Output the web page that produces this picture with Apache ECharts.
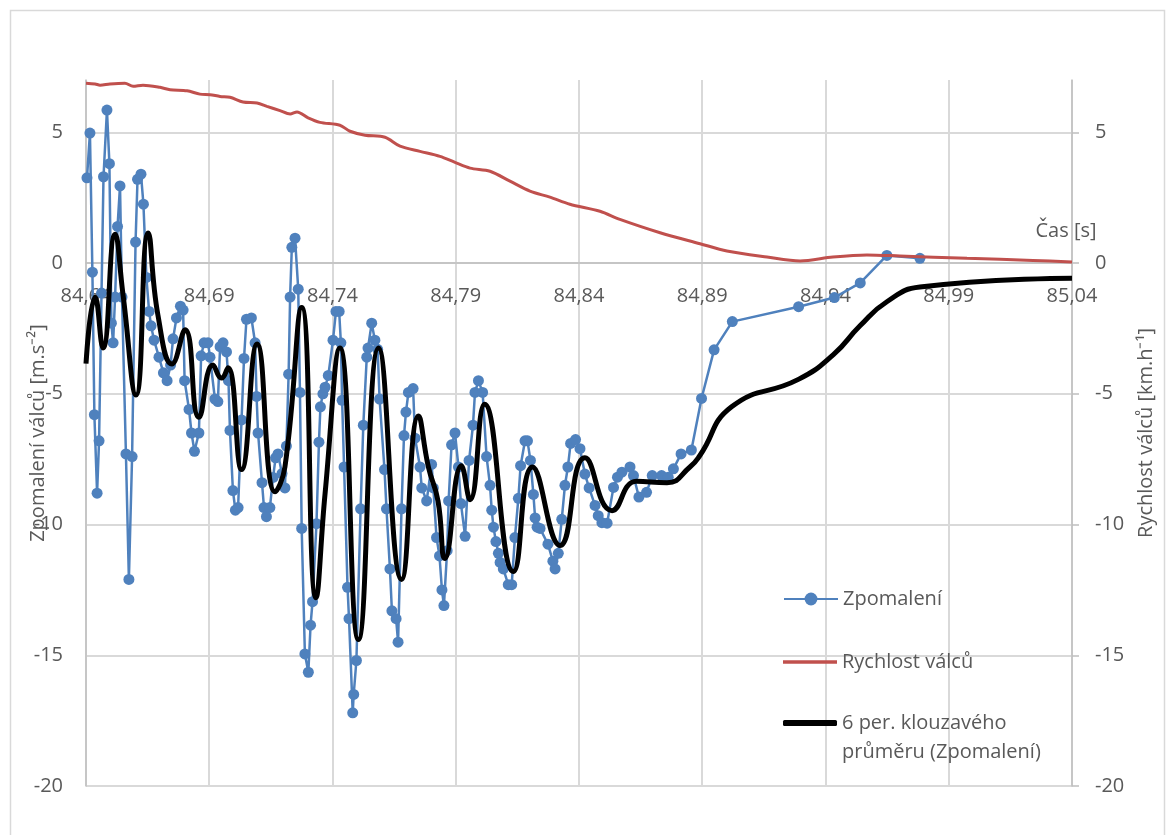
<!DOCTYPE html>
<html>
<head>
<meta charset="utf-8">
<script src="https://cdn.jsdelivr.net/npm/echarts@6/dist/echarts.min.js"></script>
<style>
  html, body { margin: 0; padding: 0; background: #ffffff; }
  #chart { width: 1170px; height: 835px; }
</style>
</head>
<body>
<div id="chart"></div>
<script>
// Deceleration of the rolls [m.s^-2] against time [s]
const timeDecel = [
  84.6404, 84.6416, 84.6426, 84.6434, 84.6445, 84.6453, 84.6463, 84.6471, 84.6485, 84.6495,
  84.6503, 84.6510, 84.6518, 84.6528, 84.6538, 84.6546, 84.6562, 84.6574, 84.6587, 84.6601,
  84.6609, 84.6623, 84.6633, 84.6645, 84.6656, 84.6664, 84.6676, 84.6696, 84.6714, 84.6729,
  84.6743, 84.6753, 84.6767, 84.6783, 84.6794, 84.6800, 84.6818, 84.6828, 84.6840, 84.6858,
  84.6867, 84.6879, 84.6895, 84.6903, 84.6923, 84.6935, 84.6944, 84.6956, 84.6970, 84.6978,
  84.6984, 84.6996, 84.7006, 84.7017, 84.7031, 84.7041, 84.7051, 84.7071, 84.7086, 84.7092,
  84.7098, 84.7114, 84.7122, 84.7132, 84.7146, 84.7159, 84.7169, 84.7179, 84.7195, 84.7207,
  84.7213, 84.7222, 84.7228, 84.7235, 84.7248, 84.7261, 84.7268, 84.7275, 84.7288, 84.7302,
  84.7311, 84.7319, 84.7335, 84.7345, 84.7351, 84.7361, 84.7370, 84.7383, 84.7402, 84.7414,
  84.7427, 84.7434, 84.7439, 84.7447, 84.7461, 84.7467, 84.7482, 84.7486, 84.7497, 84.7514,
  84.7525, 84.7539, 84.7544, 84.7559, 84.7572, 84.7583, 84.7591, 84.7611, 84.7619, 84.7633,
  84.7641, 84.7658, 84.7666, 84.7680, 84.7690, 84.7698, 84.7708, 84.7727, 84.7735, 84.7755,
  84.7762, 84.7782, 84.7802, 84.7809, 84.7822, 84.7834, 84.7844, 84.7852, 84.7865, 84.7871,
  84.7883, 84.7897, 84.7911, 84.7921, 84.7938, 84.7954, 84.7970, 84.7978, 84.7992, 84.8009,
  84.8025, 84.8039, 84.8046, 84.8053, 84.8063, 84.8073, 84.8080, 84.8093, 84.8113, 84.8127,
  84.8140, 84.8154, 84.8163, 84.8181, 84.8191, 84.8203, 84.8215, 84.8222, 84.8230, 84.8242,
  84.8274, 84.8294, 84.8303, 84.8316, 84.8330, 84.8343, 84.8355, 84.8366, 84.8386, 84.8404,
  84.8424, 84.8441, 84.8465, 84.8478, 84.8493, 84.8514, 84.8540, 84.8556, 84.8574, 84.8607,
  84.8621, 84.8643, 84.8674, 84.8697, 84.8735, 84.8762, 84.8783, 84.8814, 84.8856, 84.8897,
  84.8948, 84.9022, 84.9291, 84.9436, 84.9541, 84.9649, 84.9783
];
const decel = [
  3.26, 4.97, -0.35, -5.8, -8.8, -6.8, -1.15, 3.3, 5.85, 3.8,
  -2.3, -3.05, -1.3, 1.4, 2.95, -1.3, -7.3, -12.1, -7.4, 0.8,
  3.2, 3.4, 2.25, -0.55, -1.85, -2.4, -2.95, -3.6, -4.2, -4.5,
  -3.9, -2.9, -2.1, -1.65, -1.8, -4.5, -5.6, -6.5, -7.2, -6.5,
  -3.55, -3.05, -3.05, -3.6, -5.2, -5.3, -3.2, -3.05, -3.4, -4.5,
  -6.4, -8.7, -9.45, -9.35, -6.0, -3.65, -2.15, -2.1, -3.05, -5.1,
  -6.5, -8.4, -9.35, -9.7, -9.35, -8.2, -7.45, -7.3, -8.05, -8.6,
  -7.0, -4.25, -1.3, 0.6, 0.95, -1.0, -4.95, -10.15, -14.95, -15.65,
  -13.85, -12.95, -9.97, -6.85, -5.5, -5.0, -4.75, -4.3, -2.95, -1.85,
  -1.85, -3.05, -5.25, -7.8, -12.4, -13.6, -17.2, -16.5, -15.2, -9.4,
  -6.2, -3.6, -3.25, -2.3, -2.95, -3.3, -5.2, -7.9, -9.4, -11.7,
  -13.3, -13.6, -14.5, -9.4, -6.6, -5.7, -4.95, -4.8, -6.7, -7.8,
  -8.6, -9.1, -7.7, -8.6, -10.5, -11.2, -12.5, -13.1, -11.0, -9.1,
  -6.95, -6.5, -7.8, -9.2, -10.45, -7.55, -6.2, -4.95, -4.5, -4.95,
  -7.4, -8.5, -9.45, -10.1, -10.65, -11.1, -11.45, -11.7, -12.3, -12.3,
  -10.5, -9.0, -7.75, -6.8, -6.8, -7.55, -8.85, -9.75, -10.1, -10.15,
  -10.75, -11.4, -11.7, -11.1, -9.8, -8.5, -7.8, -6.9, -6.75, -7.1,
  -8.07, -8.6, -9.27, -9.66, -9.93, -9.95, -8.58, -8.19, -8.0, -7.8,
  -8.13, -8.95, -8.77, -8.13, -8.13, -8.19, -7.87, -7.3, -7.15, -5.18,
  -3.32, -2.24, -1.67, -1.32, -0.76, 0.29, 0.18
];

// Roll speed [km.h^-1]
const timeSpeed = [
  84.6400, 84.6437, 84.6457, 84.6497, 84.6558, 84.6591, 84.6631, 84.6700, 84.6741, 84.6810,
  84.6862, 84.6903, 84.6944, 84.6984, 84.7037, 84.7094, 84.7134, 84.7187, 84.7228, 84.7256,
  84.7301, 84.7349, 84.7430, 84.7471, 84.7532, 84.7613, 84.7674, 84.7755, 84.7836, 84.7897,
  84.7958, 84.8039, 84.8120, 84.8201, 84.8282, 84.8363, 84.8485, 84.8566, 84.8729, 84.8891,
  84.9000, 84.9163, 84.9297, 84.9430, 84.9568, 84.9702, 84.9974, 85.0242, 85.0400
];
const speed = [
  6.88, 6.85, 6.8, 6.85, 6.88, 6.76, 6.8, 6.72, 6.63, 6.59,
  6.46, 6.44, 6.37, 6.34, 6.16, 6.12, 5.99, 5.83, 5.7, 5.78,
  5.55, 5.38, 5.27, 5.04, 4.89, 4.81, 4.47, 4.27, 4.08, 3.85,
  3.63, 3.51, 3.13, 2.75, 2.52, 2.25, 1.98, 1.67, 1.16, 0.74,
  0.46, 0.23, 0.08, 0.23, 0.31, 0.27, 0.18, 0.1, 0.04
];

// 6-period moving average of the deceleration
const timeAvg = [
  84.6400, 84.6437, 84.6469, 84.6518, 84.6550, 84.6603, 84.6652, 84.6692, 84.6749, 84.6802,
  84.6858, 84.6915, 84.6950, 84.6976, 84.7031, 84.7094, 84.7167, 84.7207, 84.7275, 84.7333,
  84.7370, 84.7430, 84.7505, 84.7587, 84.7680, 84.7749, 84.7789, 84.7828, 84.7856, 84.7923,
  84.7958, 84.8017, 84.8134, 84.8211, 84.8323, 84.8424, 84.8534, 84.8633, 84.8757, 84.8850,
  84.8891, 84.9019, 84.9290, 84.9432, 84.9540, 84.9649, 84.9783, 85.0400
];
const avgDecel = [
  -3.85, -1.3, -3.25, 1.1, -1.2, -5.05, 1.15, -2.0, -3.86, -2.55,
  -5.9, -3.9, -4.4, -4.0, -7.9, -3.1, -8.75, -7.8, -1.7, -12.8,
  -8.8, -3.25, -14.4, -3.25, -12.1, -5.85, -7.8, -9.1, -11.3, -7.75,
  -9.05, -5.4, -11.8, -7.8, -10.8, -7.45, -9.47, -8.35, -8.4, -7.8,
  -7.35, -5.5, -4.45, -3.5, -2.4, -1.48, -0.92, -0.58
];

const xTicks = [84.64, 84.69, 84.74, 84.79, 84.84, 84.89, 84.94, 84.99, 85.04];
const yTicks = [-20, -15, -10, -5, 0, 5];

const nameDecel = 'Zpomalení';
const nameSpeed = 'Rychlost válců';
const nameAvg = '6 per. klouzavého průměru (Zpomalení)';

const pairs = (xs, ys) => ys.map((v, i) => [xs[i], v]);

const FONT = 'Open Sans';
const TEXT = '#595959';
const GRID = '#d9d9d9';
const AXIS = '#bfbfbf';
const BLUE = '#4f81bd';
const RED = '#c0504d';

// plot box
const PLOT_LEFT = 86, PLOT_RIGHT = 1072, PLOT_TOP = 80, PLOT_BOTTOM = 786;
const Y_MIN = -20, Y_MAX = 7;
// the time axis crosses the value axes at 0
const zeroOffset = (PLOT_BOTTOM - PLOT_TOP) * (0 - Y_MIN) / (Y_MAX - Y_MIN);

const legendBase = {
  orient: 'vertical',
  left: 783,
  padding: 0,
  itemGap: 0,
  itemWidth: 54,
  selectedMode: false,
  textStyle: { fontFamily: FONT, fontSize: 20, color: TEXT, lineHeight: 29 }
};

const yAxisBase = {
  type: 'value',
  min: Y_MIN,
  max: Y_MAX,
  nameLocation: 'middle',
  nameMoveOverlap: false,
  nameTextStyle: { fontFamily: FONT, fontSize: 20, color: TEXT },
  axisLine: { show: true, onZero: false, lineStyle: { color: AXIS, width: 1.5 } },
  axisLabel: { customValues: yTicks, margin: 23, fontFamily: FONT, fontSize: 20, color: TEXT },
  splitLine: { show: true, lineStyle: { color: GRID, width: 2 } }
};

const chart = echarts.init(document.getElementById('chart'), null, { renderer: 'canvas' });
chart.setOption({
  animation: false,
  backgroundColor: '#ffffff',
  graphic: [{
    type: 'rect',
    left: 8, top: 8,
    shape: { width: 1154, height: 860 },
    style: { fill: 'none', stroke: GRID, lineWidth: 1.5 },
    silent: true
  }],
  grid: {
    left: PLOT_LEFT, right: 1170 - PLOT_RIGHT, top: PLOT_TOP, bottom: 835 - PLOT_BOTTOM,
    containLabel: false, outerBoundsMode: 'none'
  },
  legend: [
    Object.assign({}, legendBase, { top: 584.5, itemHeight: 16, data: [nameDecel] }),
    Object.assign({}, legendBase, { top: 647.5, itemHeight: 3.5, icon: 'rect', data: [nameSpeed] }),
    Object.assign({}, legendBase, {
      top: 679.5,
      itemHeight: 6,
      icon: 'roundRect',
      data: [nameAvg],
      formatter: () => '\n6 per. klouzavého\nprůměru (Zpomalení)'
    })
  ],
  xAxis: {
    type: 'value',
    min: 84.64,
    max: 85.04,
    position: 'bottom',
    offset: -zeroOffset,
    name: 'Čas [s]',
    nameLocation: 'end',
    nameGap: -6,
    nameTextStyle: {
      fontFamily: FONT, fontSize: 20, color: TEXT,
      align: 'center', verticalAlign: 'bottom', padding: [0, 0, 22, 0]
    },
    axisLine: { show: true, onZero: false, lineStyle: { color: AXIS, width: 1.5 } },
    axisTick: { show: false, customValues: xTicks },
    axisLabel: {
      customValues: xTicks,
      margin: 23,
      fontFamily: FONT, fontSize: 20, color: TEXT,
      formatter: v => v.toFixed(2).replace('.', ',')
    },
    splitLine: { show: true, lineStyle: { color: GRID, width: 2 } }
  },
  yAxis: [
    Object.assign({}, yAxisBase, {
      position: 'left',
      name: 'Zpomalení válců [m.s⁻²]',
      nameGap: 38,
      axisTick: { show: false, customValues: yTicks }
    }),
    Object.assign({}, yAxisBase, {
      position: 'right',
      name: 'Rychlost válců [km.h⁻¹]',
      nameGap: 64,
      axisTick: { show: true, customValues: yTicks, length: 7, lineStyle: { color: AXIS, width: 1.5 } },
      splitLine: { show: false }
    })
  ],
  series: [
    {
      name: nameDecel,
      type: 'line',
      yAxisIndex: 0,
      data: pairs(timeDecel, decel),
      symbol: 'circle',
      symbolSize: 11,
      showAllSymbol: true,
      color: BLUE,
      lineStyle: { color: BLUE, width: 2.5 },
      itemStyle: { color: BLUE },
      z: 2
    },
    {
      name: nameSpeed,
      type: 'line',
      yAxisIndex: 1,
      data: pairs(timeSpeed, speed),
      symbol: 'none',
      smooth: 0.3,
      color: RED,
      lineStyle: { color: RED, width: 3 },
      itemStyle: { color: RED },
      z: 3
    },
    {
      name: nameAvg,
      type: 'line',
      yAxisIndex: 0,
      data: pairs(timeAvg, avgDecel),
      symbol: 'none',
      smooth: 0.5,
      color: '#000000',
      lineStyle: { color: '#000000', width: 5 },
      itemStyle: { color: '#000000' },
      z: 4
    }
  ]
});
</script>
</body>
</html>
